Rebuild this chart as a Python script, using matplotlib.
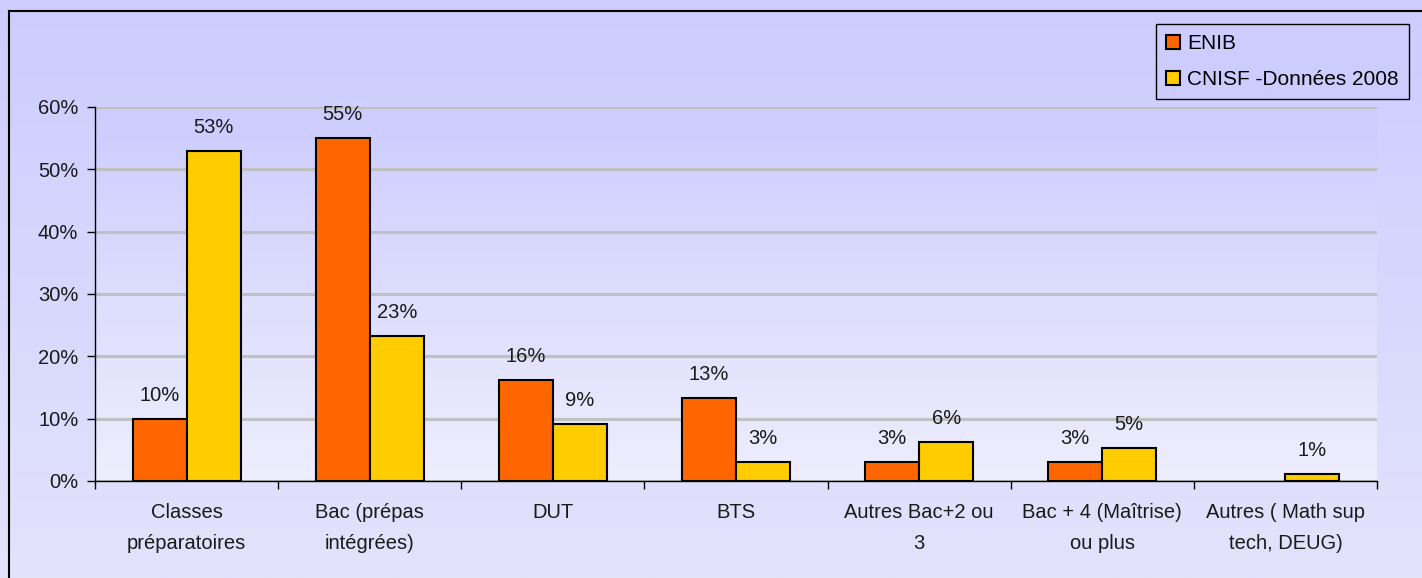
import numpy as np
import matplotlib
matplotlib.use("Agg")
import matplotlib.pyplot as plt
from matplotlib.patches import Patch

plt.rcParams["font.family"] = ["Liberation Sans", "DejaVu Sans"]

categories = [
    "Classes\npréparatoires",
    "Bac (prépas\nintégrées)",
    "DUT",
    "BTS",
    "Autres Bac+2 ou\n3",
    "Bac + 4 (Maîtrise)\nou plus",
    "Autres ( Math sup\ntech, DEUG)",
]
enib = [0.10, 0.55, 0.162, 0.133, 0.03, 0.03, None]
cnisf = [0.53, 0.233, 0.091, 0.03, 0.062, 0.053, 0.011]
series_names = ["ENIB", "CNISF -Données 2008"]
yticks = [0, 0.1, 0.2, 0.3, 0.4, 0.5, 0.6]

FS = 14.5
W, H = 1422, 578
fig = plt.figure(figsize=(W / 100, H / 100), dpi=100)

# figure background gradient + border
bg = fig.add_axes([0, 0, 1, 1], zorder=-10)
grad = np.linspace(0, 1, 256)[:, None]
top = np.array([204, 204, 255]) / 255
bot = np.array([227, 227, 252]) / 255
bg.imshow(top + (bot - top) * grad[:, :, None], aspect="auto",
          extent=[0, 1, 0, 1], transform=bg.transAxes)
bg.plot([9 / W, 9 / W], [0, 1 - 11 / H], color="black", lw=1.5,
        transform=bg.transAxes)
bg.plot([9 / W, 1], [1 - 11 / H, 1 - 11 / H], color="black", lw=1.5,
        transform=bg.transAxes)
bg.set_xlim(0, 1)
bg.set_ylim(0, 1)
bg.axis("off")

ax = fig.add_axes([95 / W, 1 - 481 / H, (1377 - 95) / W, (481 - 107) / H])
ax.patch.set_visible(False)
top2 = np.array([204, 204, 255]) / 255
bot2 = np.array([238, 238, 253]) / 255
ax.imshow(top2 + (bot2 - top2) * grad[:, :, None], aspect="auto",
          extent=[0, 1, 0, 1], transform=ax.transAxes, zorder=-1)

x = np.arange(len(categories))
w = 0.295
for i, (a, b) in enumerate(zip(enib, cnisf)):
    if a is not None:
        ax.bar(x[i] - w / 2, a, w, color="#FF6600", edgecolor="black",
               linewidth=1.5, zorder=3)
        ax.annotate(f"{a * 100:.0f}%", (x[i] - w / 2, a), xytext=(0, 10),
                    textcoords="offset points", ha="center", va="bottom",
                    fontsize=FS, color="#1a1a1a")
    ax.bar(x[i] + w / 2, b, w, color="#FFCC00", edgecolor="black",
           linewidth=1.5, zorder=3)
    ax.annotate(f"{b * 100:.0f}%", (x[i] + w / 2, b), xytext=(0, 10),
                textcoords="offset points", ha="center", va="bottom",
                fontsize=FS, color="#1a1a1a")

ax.set_xlim(-0.5, len(categories) - 0.5)
ax.set_ylim(0, 0.6)
ax.set_yticks(yticks)
ax.set_yticklabels([f"{t * 100:.0f}%" for t in yticks], fontsize=FS,
                   color="#1a1a1a")
ax.set_xticks(np.arange(-0.5, len(categories), 1.0))
ax.set_xticklabels([])
ax.set_xticks(x, minor=True)
ax.set_xticklabels(categories, minor=True, fontsize=FS, color="#1a1a1a",
                   linespacing=1.78)
ax.tick_params(axis="x", which="minor", length=0, pad=16)
ax.tick_params(axis="x", which="major", length=6, width=1, direction="out")
ax.tick_params(axis="y", length=6, width=1, direction="out", pad=6)
ax.yaxis.grid(True, color="#C0C0C0", linewidth=2.2)
ax.set_axisbelow(True)
for s in ["top", "right"]:
    ax.spines[s].set_visible(False)
for s in ["left", "bottom"]:
    ax.spines[s].set_linewidth(1)
    ax.spines[s].set_zorder(4)

handles = [Patch(facecolor="#FF6600", edgecolor="black", linewidth=1.5),
           Patch(facecolor="#FFCC00", edgecolor="black", linewidth=1.5)]
leg = fig.legend(handles, series_names, loc="upper right",
                 bbox_to_anchor=(1409 / W, 1 - 24 / H), fontsize=15,
                 frameon=True, fancybox=False, framealpha=1,
                 handlelength=0.65, handleheight=0.65, handletextpad=0.35,
                 labelspacing=0.8, borderpad=0.5, borderaxespad=0)
leg.get_frame().set_facecolor("#CCCCFF")
leg.get_frame().set_edgecolor("black")
leg.get_frame().set_linewidth(1)

fig.savefig("out.png", dpi=100)
